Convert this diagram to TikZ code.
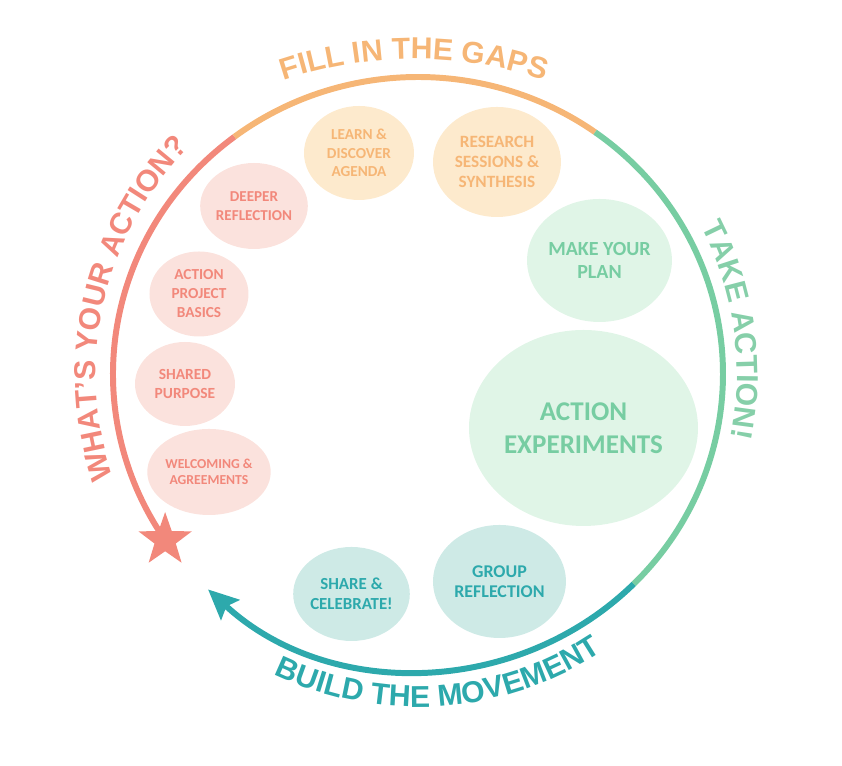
\documentclass[tikz,border=0pt]{standalone}
\usepackage{fontspec}
\newfontfamily\bubblefont{Carlito}
\newfontfamily\bannerfont{Liberation Sans}
\usetikzlibrary{arrows.meta,decorations.text,shapes.geometric}

\definecolor{salmon}{HTML}{F2887B}
\definecolor{salmonfill}{HTML}{FBE2DD}
\definecolor{apricot}{HTML}{F6B676}
\definecolor{apricotfill}{HTML}{FDEACD}
\definecolor{mint}{HTML}{77CDA2}
\definecolor{minttext}{HTML}{86CFA9}
\definecolor{mintfill}{HTML}{E0F5E7}
\definecolor{sea}{HTML}{2DA9AC}
\definecolor{seafill}{HTML}{CEEAE6}

\newcommand{\bannertext}{\bannerfont\bfseries\fontsize{8.6}{10}\selectfont}

\begin{document}
\begin{tikzpicture}[
  ring/.style={line width=1.7pt},
  bubble/.style={ellipse, inner sep=0pt, align=center},
  salmonbubble/.style={bubble, fill=salmonfill, text=salmon},
  apricotbubble/.style={bubble, fill=apricotfill, text=apricot},
  mintbubble/.style={bubble, fill=mintfill, text=mint},
  seabubble/.style={bubble, fill=seafill, text=sea},
]
\useasboundingbox (-4.18,-3.92) rectangle (4.24,3.74);

% the ring
\draw[ring, salmon] (127:3.05cm and 2.97cm) arc[start angle=127, end angle=214, x radius=3.05, y radius=2.97];
\draw[ring, apricot] (54.5:3.05cm and 2.97cm) arc[start angle=54.5, end angle=127, x radius=3.05, y radius=2.97];
\draw[ring, mint] (-45:3.05cm and 2.97cm) arc[start angle=-45, end angle=54.5, x radius=3.05, y radius=2.97];
\draw[ring, sea, -{Stealth[length=0.30cm, width=0.27cm, inset=0.05cm]}] (-45:3.05cm and 2.97cm) arc[start angle=-45, end angle=-133.5, x radius=3.05, y radius=2.97];
\node[star, star points=5, star point ratio=2.5, fill=salmon, minimum size=0.56cm, inner sep=0pt] (goal) at (214:3.05cm and 2.97cm) {};

% banners
\path[decorate, decoration={text along path, text align=center, text color=apricot,
  text={|\bannertext|FILL IN THE GAPS}}] (-0.04,-0.92) ++(120:4.07) arc[start angle=120, end angle=60, radius=4.07];
\path[decorate, decoration={text along path, text align=center, text color=minttext,
  text={|\bannertext|TAKE ACTION!}}] (50:3.19) arc[start angle=50, end angle=-34, radius=3.19];
\path[decorate, decoration={text along path, text align=center, text color=salmon,
  text={|\bannertext|WHAT’S YOUR ACTION?}}] (200:3.22) arc[start angle=200, end angle=134, radius=3.22];
\path[decorate, decoration={text along path, text align=center, text color=sea,
  text={|\bannertext|BUILD THE MOVEMENT}}] (240:3.33) arc[start angle=240, end angle=308, radius=3.33];

% steps
\node[salmonbubble, minimum width=1.00cm, minimum height=0.86cm, font=\bubblefont\bfseries\fontsize{3.9}{4.6}\selectfont] (welcome) at (-2.09,-0.98) {WELCOMING \&\\AGREEMENTS};
\node[salmonbubble, minimum width=1.00cm, minimum height=0.84cm, font=\bubblefont\bfseries\fontsize{4.4}{5.4}\selectfont] (purpose) at (-2.33,-0.10) {SHARED\\PURPOSE};
\node[salmonbubble, minimum width=0.99cm, minimum height=0.85cm, font=\bubblefont\bfseries\fontsize{4.35}{5.4}\selectfont] (basics) at (-2.19,0.80) {ACTION\\PROJECT\\BASICS};
\node[salmonbubble, minimum width=1.00cm, minimum height=0.86cm, font=\bubblefont\bfseries\fontsize{4.3}{5.4}\selectfont] (deeper) at (-1.64,1.68) {DEEPER\\REFLECTION};
\node[apricotbubble, minimum width=1.10cm, minimum height=0.94cm, font=\bubblefont\bfseries\fontsize{4.35}{5.2}\selectfont] (learn) at (-0.59,2.21) {LEARN \&\\DISCOVER\\AGENDA};
\node[apricotbubble, minimum width=1.28cm, minimum height=1.10cm, font=\bubblefont\bfseries\fontsize{4.9}{5.8}\selectfont] (research) at (0.79,2.12) {RESEARCH\\SESSIONS \&\\SYNTHESIS};
\node[mintbubble, minimum width=1.43cm, minimum height=1.23cm, font=\bubblefont\bfseries\fontsize{5.7}{6.6}\selectfont] (plan) at (1.815,1.135) {MAKE YOUR\\PLAN};
\node[mintbubble, minimum width=2.29cm, minimum height=1.96cm, font=\bubblefont\bfseries\fontsize{7.7}{9.5}\selectfont] (experiments) at (1.655,-0.54) {ACTION\\EXPERIMENTS};
\node[seabubble, minimum width=1.33cm, minimum height=1.13cm, font=\bubblefont\bfseries\fontsize{5.1}{5.7}\selectfont] (groupref) at (0.815,-2.075) {GROUP\\REFLECTION};
\node[seabubble, minimum width=1.12cm, minimum height=0.94cm, font=\bubblefont\bfseries\fontsize{4.8}{5.7}\selectfont] (celebrate) at (-0.665,-2.20) {SHARE \&\\CELEBRATE!};
\end{tikzpicture}
\end{document}
